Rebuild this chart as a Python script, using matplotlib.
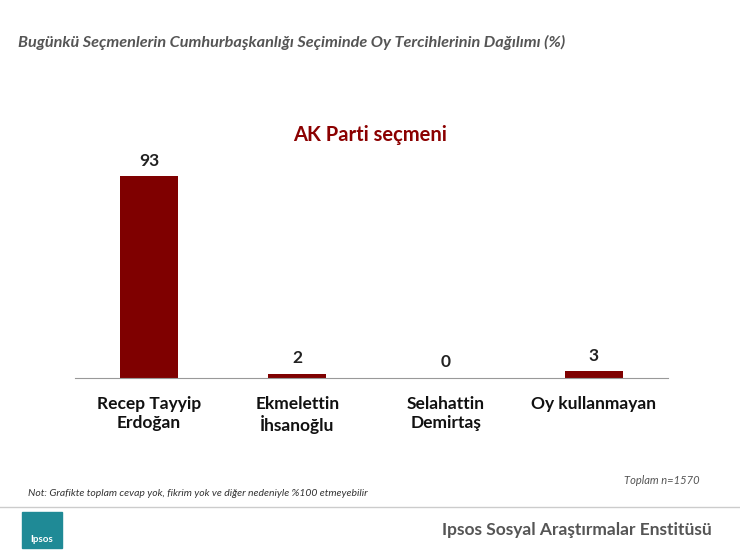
import matplotlib
matplotlib.use("Agg")
import matplotlib.pyplot as plt
from matplotlib.patches import Rectangle

categories = ["Recep Tayyip\nErdoğan", "Ekmelettin\nİhsanoğlu", "Selahattin\nDemirtaş", "Oy kullanmayan"]
values = [93, 2, 0, 3]

plt.rcParams['font.family'] = ['Lato', 'DejaVu Sans']
fig = plt.figure(figsize=(7.4, 5.55), dpi=100)
fig.patch.set_facecolor("white")
W, H = 740, 555

ax = fig.add_axes([75/W, 1-378/H, 593/W, 217/H])
x = list(range(len(values)))
ax.bar(x, values, width=0.39, color="#7f0000")
for xi, v in zip(x, values):
    ax.text(xi, v + 3.5, str(v), ha="center", va="bottom", fontsize=12.5, fontweight="bold", color="#222222")
ax.set_xlim(-0.5, 3.5)
ax.set_ylim(0, 100)
ax.set_yticks([])
ax.set_xticks(x)
ax.set_xticklabels(categories, fontsize=12.5, fontweight="bold", color="#111111", va="top")
ax.tick_params(axis="x", length=0, pad=13)
for s in ["top", "right", "left"]:
    ax.spines[s].set_visible(False)
ax.spines["bottom"].set_color("#999999")

fig.text(18/W, 1-42/H, "Bugünkü Seçmenlerin Cumhurbaşkanlığı Seçiminde Oy Tercihlerinin Dağılımı (%)",
         fontsize=11.7, fontstyle="italic", fontweight="bold", color="#555555", va="center")
fig.text(370/W, 1-135/H, "AK Parti seçmeni", fontsize=14.5, fontweight="bold", color="#8b0000", ha="center", va="center")
fig.text(700/W, 1-481/H, "Toplam n=1570", fontsize=8, fontstyle="italic", color="#555555", ha="right", va="center")
fig.text(28/W, 1-493/H, "Not: Grafikte toplam cevap yok, fikrim yok ve diğer nedeniyle %100 etmeyebilir",
         fontsize=7.5, fontstyle="italic", color="#333333", va="center")
fig.add_artist(plt.Line2D([0, 1], [1-507/H, 1-507/H], color="#cccccc", lw=1))
fig.add_artist(Rectangle((22/W, 1-548/H), 40/W, 36/H, color="#1f8a96", transform=fig.transFigure))
fig.text(42/W, 1-540/H, "Ipsos", fontsize=7, fontweight="bold", color="white", ha="center", va="center")
fig.text(712/W, 1-530/H, "Ipsos Sosyal Araştırmalar Enstitüsü", fontsize=12.5, fontweight="bold", color="#555555", ha="right", va="center")

fig.savefig("out.png", dpi=100)
